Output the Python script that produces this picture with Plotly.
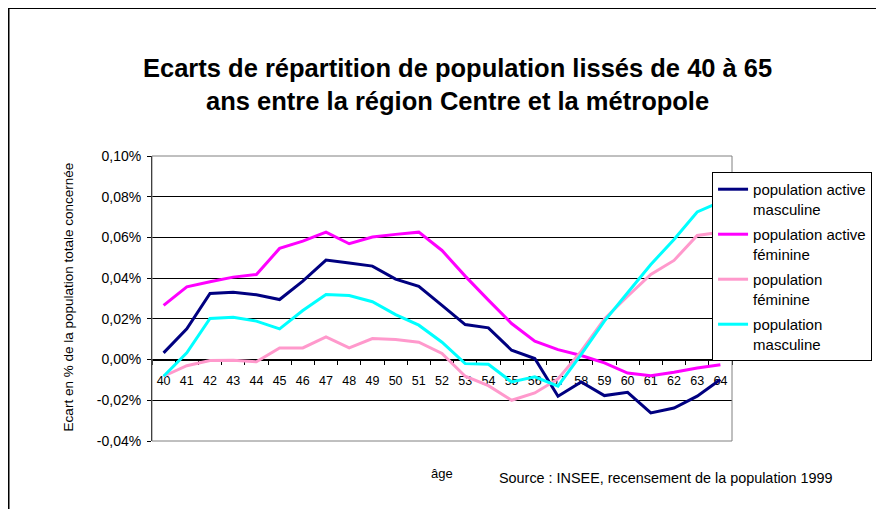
import plotly.graph_objects as go

ages = [str(a) for a in range(40, 65)]

active_masc = [0.0033, 0.0151, 0.0325, 0.0331, 0.0318, 0.0295, 0.0385, 0.0489, 0.0474, 0.0459,
               0.0395, 0.0360, 0.0266, 0.0172, 0.0156, 0.0046, 0.0005, -0.0180, -0.0110, -0.0177,
               -0.0161, -0.0262, -0.0238, -0.0180, -0.0098]
active_fem = [0.0266, 0.0357, 0.0382, 0.0405, 0.0418, 0.0546, 0.0582, 0.0626, 0.0569, 0.0602,
              0.0615, 0.0626, 0.0536, 0.0410, 0.0292, 0.0177, 0.0090, 0.0049, 0.0020, -0.0016,
              -0.0066, -0.0079, -0.0062, -0.0041, -0.0025]
pop_fem = [-0.0082, -0.0030, -0.0005, -0.0003, -0.0011, 0.0057, 0.0057, 0.0111, 0.0057, 0.0103,
           0.0098, 0.0085, 0.0030, -0.0082, -0.0128, -0.0200, -0.0164, -0.0095, 0.0041, 0.0200,
           0.0311, 0.0418, 0.0487, 0.0610, 0.0626]
pop_masc = [-0.0082, 0.0033, 0.0202, 0.0208, 0.0189, 0.0151, 0.0241, 0.0320, 0.0315, 0.0284,
            0.0221, 0.0169, 0.0085, -0.0020, -0.0023, -0.0110, -0.0085, -0.0131, 0.0025, 0.0189,
            0.0328, 0.0467, 0.0590, 0.0725, 0.0775]

series_names = ["population active<br>masculine", "population active<br>féminine",
                "population<br>féminine", "population<br>masculine"]
series_values = [active_masc, active_fem, pop_fem, pop_masc]
series_colors = ["#000080", "#FF00FF", "#FF99CC", "#00FFFF"]

y_ticks = [-0.04, -0.02, 0.0, 0.02, 0.04, 0.06, 0.08, 0.10]
y_ticklabels = ["-0,04%", "-0,02%", "0,00%", "0,02%", "0,04%", "0,06%", "0,08%", "0,10%"]

title_lines = ["Ecarts de répartition de population lissés de 40 à 65",
               "ans entre la région Centre et la métropole"]
ytitle_text = "Ecart en % de la population totale concernée"
xtitle_text = "âge"
source_text = "Source : INSEE, recensement de la population 1999"

FONT = "Liberation Sans, Arial, sans-serif"

fig = go.Figure()
for i, (name, vals, col) in enumerate(zip(series_names, series_values, series_colors)):
    fig.add_trace(go.Scatter(x=ages, y=vals, mode="lines", name=name,
                             legendgroup="g%d" % i,
                             line=dict(color=col, width=3)))

ymin, ymax = -0.04, 0.10
zero_pos = (0 - ymin) / (ymax - ymin)

fig.update_layout(
    width=876, height=501,
    margin=dict(l=144, r=150, t=148, b=68),
    paper_bgcolor="white", plot_bgcolor="white",
    font=dict(family=FONT, size=12, color="black"),
    showlegend=True,
    legend=dict(x=0.9656, y=0.944, xanchor="left", yanchor="top",
                bgcolor="white", bordercolor="black", borderwidth=1,
                font=dict(family=FONT, size=15, color="black"),
                valign="top", itemwidth=30, tracegroupgap=3),
    xaxis=dict(type="category", anchor="free", position=zero_pos,
               showline=True, linecolor="black", linewidth=1,
               ticks="outside", ticklen=4, tickcolor="black", tickson="boundaries",
               ticklabelstandoff=9,
               showgrid=False, zeroline=False, layer="below traces",
               tickfont=dict(family=FONT, size=12.5, color="black"),
               range=[-0.5, 24.5]),
    yaxis=dict(range=[ymin, ymax], tickvals=y_ticks, ticktext=y_ticklabels,
               showline=True, linecolor="black", linewidth=1,
               ticks="outside", ticklen=4, tickcolor="black", ticklabelstandoff=3,
               showgrid=True, gridcolor="black", gridwidth=1, zeroline=False,
               tickfont=dict(family=FONT, size=14, color="black")),
    shapes=[
        dict(type="rect", xref="paper", yref="paper", x0=0, x1=1, y0=0, y1=1,
             line=dict(color="#808080", width=1), layer="above"),
        dict(type="rect", xref="paper", yref="paper", x0=-0.2474, x1=2.0, y0=-1.0, y1=1.519,
             line=dict(color="black", width=2)),
    ],
    annotations=[
        dict(text="<br>".join("<b>%s</b>" % t for t in title_lines), xref="paper", yref="paper",
             x=0.527, y=1.2526, xanchor="center", yanchor="middle", showarrow=False,
             font=dict(family=FONT, size=25.5, color="black")),
        dict(text=ytitle_text, xref="paper", yref="paper", x=-0.1443, y=0.505,
             xanchor="center", yanchor="middle", textangle=-90, showarrow=False,
             font=dict(family=FONT, size=13.5, color="black")),
        dict(text=xtitle_text, xref="paper", yref="paper", x=0.5, y=-0.115,
             xanchor="center", yanchor="middle", showarrow=False,
             font=dict(family=FONT, size=13, color="black")),
        dict(text=source_text, xref="paper", yref="paper", x=0.5945, y=-0.1298,
             xanchor="left", yanchor="middle", showarrow=False,
             font=dict(family=FONT, size=14.4, color="black")),
    ],
)

fig.write_html("out.html")
